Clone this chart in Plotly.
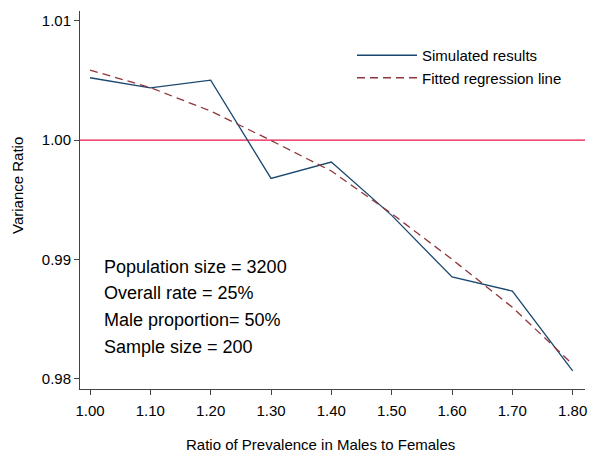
import plotly.graph_objects as go

ratio = [1.00, 1.10, 1.20, 1.30, 1.40, 1.50, 1.60, 1.70, 1.80]
simulated = [1.00522, 1.00438, 1.00502, 0.99679, 0.99816, 0.99370, 0.98854, 0.98736, 0.98067]
fitted = [1.00586, 1.00440, 1.00243, 0.99997, 0.99741, 0.99384, 0.99002, 0.98600, 0.98123]
x_ticks = [1.00, 1.10, 1.20, 1.30, 1.40, 1.50, 1.60, 1.70, 1.80]
y_ticks = [0.98, 0.99, 1.00, 1.01]
notes = ["Population size = 3200", "Overall rate = 25%", "Male proportion= 50%", "Sample size = 200"]
reference_value = 1.00

FONT = "Liberation Sans, Arial, sans-serif"

fig = go.Figure()
fig.add_trace(go.Scatter(x=ratio, y=simulated, mode="lines", name="Simulated results",
                         line=dict(color="#1a476f", width=1.3)))
fig.add_trace(go.Scatter(x=ratio, y=fitted, mode="lines", name="Fitted regression line",
                         line=dict(color="#90353b", width=1.3, dash="8px,5px")))

fig.add_hline(y=reference_value, line=dict(color="#e8164a", width=1.3), layer="below")

# note lines
note_y_px = [266.5, 293, 320, 346.5]
for txt, py in zip(notes, note_y_px):
    fig.add_annotation(text=txt, xref="paper", yref="paper", x=(102 - 80) / 505,
                       y=(389 - py) / 378, xanchor="left", yanchor="middle",
                       showarrow=False, font=dict(family=FONT, size=18, color="black"))

fig.add_annotation(text="Variance Ratio", xref="paper", yref="paper",
                   x=(18 - 80) / 505, y=(389 - 186) / 378, textangle=-90,
                   xanchor="center", yanchor="middle", showarrow=False,
                   font=dict(family=FONT, size=15, color="black"))
fig.add_annotation(text="Ratio of Prevalence in Males to Females", xref="paper", yref="paper",
                   x=(320 - 80) / 505, y=(389 - 444) / 378,
                   xanchor="center", yanchor="middle", showarrow=False,
                   font=dict(family=FONT, size=15, color="black"))

fig.update_layout(
    width=600, height=464,
    margin=dict(l=80, r=15, t=11, b=75),
    paper_bgcolor="white", plot_bgcolor="white",
    font=dict(family=FONT, size=15, color="black"),
    showlegend=True,
    legend=dict(x=(352 - 80) / 505, y=(389 - 39) / 378, xanchor="left", yanchor="top",
                bgcolor="rgba(0,0,0,0)", font=dict(family=FONT, size=15, color="black"),
                itemwidth=60, tracegroupgap=0),
    xaxis=dict(range=[0.9834, 1.8204], tickvals=x_ticks, tickformat=".2f",
               showgrid=False, zeroline=False, showline=True, linecolor="#444444", linewidth=1,
               ticks="outside", ticklen=5, tickcolor="#444444", tickfont=dict(size=15),
               ticklabelstandoff=3),
    yaxis=dict(range=[0.97916, 1.01081], tickvals=y_ticks, tickformat=".2f",
               showgrid=False, zeroline=False, showline=True, linecolor="#444444", linewidth=1,
               ticks="outside", ticklen=5, tickcolor="#444444", tickfont=dict(size=15)),
)

fig.write_html("out.html")
